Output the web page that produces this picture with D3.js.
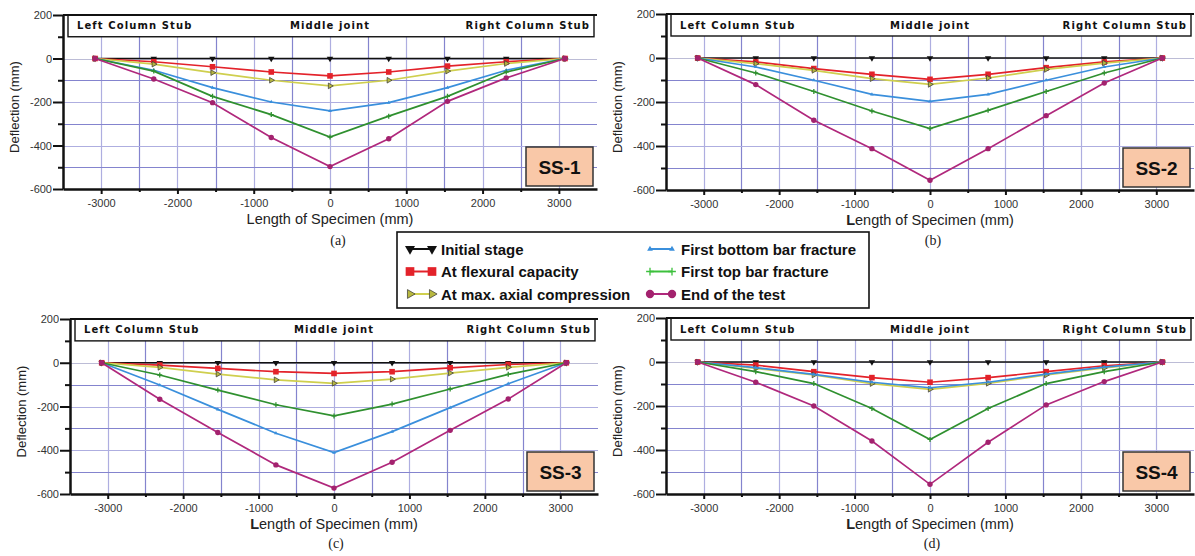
<!DOCTYPE html>
<html>
<head>
<meta charset="utf-8">
<script src="https://cdn.jsdelivr.net/npm/d3@7"></script>
<style>
  body { margin: 0; background: #fff; }
  svg { display: block; font-family: "Liberation Sans", Arial, sans-serif; }
</style>
</head>
<body>
<svg id="chart" width="1195" height="556"></svg>
<script>
// measuring points along the specimen (mm)
const positions = [-3080, -2310, -1540, -770, 0, 770, 1540, 2310, 3080];
const xTicks = [-3000, -2000, -1000, 0, 1000, 2000, 3000];
const yTicks = [200, 0, -200, -400, -600];

const stageNames = [
  "Initial stage",
  "At flexural capacity",
  "At max. axial compression",
  "First bottom bar fracture",
  "First top bar fracture",
  "End of the test",
];
const stageColors = ["#111111", "#e3222a", "#cfcf4e", "#3a8fdc", "#2f902f", "#b0287c"];

const initialStage = [0, 0, 0, 0, 0, 0, 0, 0, 0];

// SS-1
const ss1Flexural = [0, -15, -38, -62, -80, -62, -35, -15, 0];
const ss1Axial = [0, -26, -65, -100, -126, -100, -58, -23, 0];
const ss1BottomBar = [0, -54, -134, -200, -241, -203, -134, -54, 0];
const ss1TopBar = [0, -58, -174, -258, -361, -265, -174, -62, 0];
const ss1End = [0, -94, -203, -363, -497, -369, -197, -89, 0];

// SS-2
const ss2Flexural = [0, -18, -48, -74, -97, -74, -44, -18, 0];
const ss2Axial = [0, -26, -56, -94, -120, -91, -52, -23, 0];
const ss2BottomBar = [0, -41, -101, -165, -197, -165, -101, -41, 0];
const ss2TopBar = [0, -68, -152, -241, -321, -238, -152, -68, 0];
const ss2End = [0, -121, -283, -412, -556, -412, -262, -114, 0];

// SS-3
const ss3Flexural = [0, -11, -26, -41, -49, -41, -23, -8, 0];
const ss3Axial = [0, -21, -52, -78, -94, -75, -47, -21, 0];
const ss3BottomBar = [0, -102, -213, -322, -411, -315, -205, -96, 0];
const ss3TopBar = [0, -56, -125, -192, -243, -189, -120, -53, 0];
const ss3End = [0, -167, -319, -467, -573, -455, -309, -166, 0];

// SS-4
const ss4Flexural = [0, -14, -44, -71, -92, -71, -44, -17, 0];
const ss4Axial = [0, -29, -59, -98, -124, -97, -59, -27, 0];
const ss4BottomBar = [0, -26, -56, -92, -117, -92, -55, -23, 0];
const ss4TopBar = [0, -44, -98, -211, -352, -211, -98, -44, 0];
const ss4End = [0, -92, -200, -359, -556, -365, -195, -89, 0];

const panels = [
  { name: "SS-1", caption: "(a)", left: 63, right: 597, top: 15, bottom: 189, capX: 338, capY: 245,
    series: [initialStage, ss1Flexural, ss1Axial, ss1BottomBar, ss1TopBar, ss1End] },
  { name: "SS-2", caption: "(b)", left: 666, right: 1194, top: 14, bottom: 190, capX: 933, capY: 245, boldL: true,
    series: [initialStage, ss2Flexural, ss2Axial, ss2BottomBar, ss2TopBar, ss2End] },
  { name: "SS-3", caption: "(c)", left: 70, right: 598, top: 319, bottom: 494, capX: 336, capY: 548, boldL: true,
    series: [initialStage, ss3Flexural, ss3Axial, ss3BottomBar, ss3TopBar, ss3End] },
  { name: "SS-4", caption: "(d)", left: 666, right: 1194, top: 318, bottom: 494, capX: 932, capY: 548, boldL: true,
    series: [initialStage, ss4Flexural, ss4Axial, ss4BottomBar, ss4TopBar, ss4End] },
];

const svg = d3.select("#chart");

// marker for each stage, drawn centred on (0,0)
function drawMarker(sel, stage, scale) {
  const k = scale || 1;
  const col = stageColors[stage];
  if (stage === 0) {
    sel.append("path").attr("d", d3.symbol(d3.symbolTriangle, 18 * k * k)())
      .attr("transform", "rotate(180)").attr("fill", "#111");
  } else if (stage === 1) {
    sel.append("rect").attr("x", -2.8 * k).attr("y", -2.8 * k)
      .attr("width", 5.6 * k).attr("height", 5.6 * k).attr("fill", col);
  } else if (stage === 2) {
    sel.append("path").attr("d", d3.symbol(d3.symbolTriangle, 14 * k * k)())
      .attr("transform", "rotate(90)").attr("fill", "#b8b840")
      .attr("stroke", "#333").attr("stroke-width", 0.7);
  } else if (stage === 3) {
    sel.append("path").attr("d", d3.symbol(d3.symbolTriangle, 6 * k * k)())
      .attr("fill", col);
  } else if (stage === 4) {
    sel.append("path")
      .attr("d", `M${-2.5 * k},0H${2.5 * k}M0,${-2.5 * k}V${2.5 * k}`)
      .attr("stroke", k > 1 ? "#3cc03c" : col).attr("stroke-width", 1.3);
  } else {
    sel.append("circle").attr("r", 2.7 * k).attr("fill", "#a3226e");
  }
}

function drawPanel(p) {
  const x = d3.scaleLinear().domain([-3500, 3500]).range([p.left, p.right]);
  const y = d3.scaleLinear().domain([-600, 200]).range([p.bottom, p.top]);
  const g = svg.append("g");

  // grid: multiples of 1000 / 200 are light, the halves in between darker
  g.selectAll(".vgrid").data(d3.range(-3000, 3001, 500)).enter().append("line")
    .attr("x1", (d) => Math.round(x(d)) + 0.5).attr("x2", (d) => Math.round(x(d)) + 0.5)
    .attr("y1", y(100)).attr("y2", y(-600))
    .attr("stroke", (d) => (d % 1000 === 0 ? "#aeaee0" : "#8484ce"))
    .attr("stroke-width", 1.2);
  g.selectAll(".hgrid").data(d3.range(0, -600, -100)).enter().append("line")
    .attr("x1", x(-3500)).attr("x2", x(3500))
    .attr("y1", (d) => Math.round(y(d)) + 0.5).attr("y2", (d) => Math.round(y(d)) + 0.5)
    .attr("stroke", (d) => (d === 0 ? "#bcbcd6" : d % 200 === 0 ? "#aeaee0" : "#8484ce"))
    .attr("stroke-width", 1.2);

  // header strip
  g.append("rect")
    .attr("x", p.left + 5).attr("y", y(200))
    .attr("width", p.right - p.left - 8).attr("height", y(100) - y(200))
    .attr("fill", "#fff").attr("stroke", "#111").attr("stroke-width", 1.4);
  g.append("line").attr("x1", p.left).attr("x2", p.right)
    .attr("y1", y(200)).attr("y2", y(200)).attr("stroke", "#111").attr("stroke-width", 2);
  const hy = (y(200) + y(100)) / 2 + 3.5;
  const header = g.append("g")
    .style("font-family", '"DejaVu Sans", sans-serif').style("font-weight", "bold")
    .style("font-size", "10px").style("letter-spacing", "1.1px").attr("fill", "#111");
  header.append("text").attr("x", p.left + 14).attr("y", hy).text("Left Column Stub");
  header.append("text").attr("x", x(0)).attr("y", hy).attr("text-anchor", "middle").text("Middle joint");
  header.append("text").attr("x", p.right - 7).attr("y", hy).attr("text-anchor", "end").text("Right Column Stub");

  // series
  const line = d3.line().x((d) => x(d[0])).y((d) => y(d[1]));
  p.series.forEach((vals, s) => {
    const pts = positions.map((pos, i) => [pos, vals[i]]);
    g.append("path").datum(pts)
      .attr("d", line).attr("fill", "none")
      .attr("stroke", stageColors[s]).attr("stroke-width", 1.7);
    const m = g.selectAll(null).data(pts).enter().append("g")
      .attr("transform", (d) => `translate(${x(d[0])},${y(d[1])})`);
    drawMarker(m, s);
  });

  // axes
  const plain = (d) => String(d);
  const yAxis = g.append("g").attr("transform", `translate(${p.left},0)`)
    .call(d3.axisLeft(y).tickValues(yTicks).tickFormat(plain).tickSize(10).tickSizeOuter(0).tickPadding(1));
  g.append("g").attr("transform", `translate(${p.left},0)`)
    .call(d3.axisLeft(y).tickValues([100, -100, -300, -500]).tickSize(5).tickFormat(""))
    .call((a) => a.select(".domain").remove());
  const xAxis = g.append("g").attr("transform", `translate(0,${p.bottom})`)
    .call(d3.axisBottom(x).tickValues(xTicks).tickFormat(plain).tickSize(5).tickSizeOuter(0).tickPadding(5));
  g.append("g").attr("transform", `translate(0,${p.bottom})`)
    .call(d3.axisBottom(x).tickValues([-2500, -1500, -500, 500, 1500, 2500]).tickSize(3).tickFormat(""))
    .call((a) => a.select(".domain").remove());
  [yAxis, xAxis].forEach((a) => {
    a.select(".domain").attr("stroke", "#111").attr("stroke-width", 2.5);
    a.selectAll("text").attr("fill", "#333").style("font-size", "11px")
      .style("font-family", '"Liberation Sans", Arial, sans-serif');
  });
  g.selectAll(".tick line").attr("stroke", "#111").attr("stroke-width", 2);

  // axis titles
  g.append("text")
    .attr("transform", `translate(${p.left - 44},${(p.top + p.bottom) / 2 + 5}) rotate(-90)`)
    .attr("text-anchor", "middle").attr("fill", "#222").style("font-size", "13px")
    .text("Deflection (mm)");
  const xt = g.append("text").attr("x", x(0)).attr("y", p.bottom + 35)
    .attr("text-anchor", "middle").attr("fill", "#222").style("font-size", "14.5px");
  if (p.boldL) {
    xt.append("tspan").style("font-weight", "bold").text("L");
    xt.append("tspan").text("ength of Specimen (mm)");
  } else {
    xt.text("Length of Specimen (mm)");
  }

  // specimen tag
  g.append("rect")
    .attr("x", p.right - 71).attr("y", p.bottom - 42)
    .attr("width", 67).attr("height", 39)
    .attr("fill", "#f9c8a8").attr("stroke", "#333").attr("stroke-width", 1.5);
  g.append("text").attr("x", p.right - 37.5).attr("y", p.bottom - 15.5)
    .attr("text-anchor", "middle").attr("fill", "#111")
    .style("font-size", "19px").style("font-weight", "bold").text(p.name);

  // caption
  g.append("text").attr("x", p.capX).attr("y", p.capY)
    .attr("text-anchor", "middle").attr("fill", "#222")
    .style("font-family", '"Liberation Serif", serif').style("font-size", "14px")
    .text(p.caption);
}

panels.forEach(drawPanel);

// legend
const legend = svg.append("g");
legend.append("rect").attr("x", 397).attr("y", 232).attr("width", 472).attr("height", 76)
  .attr("fill", "#fff").attr("stroke", "#111").attr("stroke-width", 1.6);
const legendCols = [407, 647];
const legendRows = [249, 271.5, 294];
stageNames.forEach((name, i) => {
  const col = Math.floor(i / 3);
  const row = i % 3;
  const x0 = legendCols[col];
  const y0 = legendRows[row];
  const item = legend.append("g").attr("transform", `translate(${x0},${y0})`);
  item.append("line").attr("x1", 3).attr("x2", 25).attr("y1", 0).attr("y2", 0)
    .attr("stroke", i === 4 ? "#3cc03c" : stageColors[i]).attr("stroke-width", 2);
  [3, 25].forEach((mx) => {
    drawMarker(item.append("g").attr("transform", `translate(${mx},0)`), i, 1.55);
  });
  item.append("text").attr("x", 34).attr("y", 5.5)
    .attr("fill", "#111").style("font-size", "15px").style("font-weight", "bold")
    .text(name);
});
</script>
</body>
</html>
